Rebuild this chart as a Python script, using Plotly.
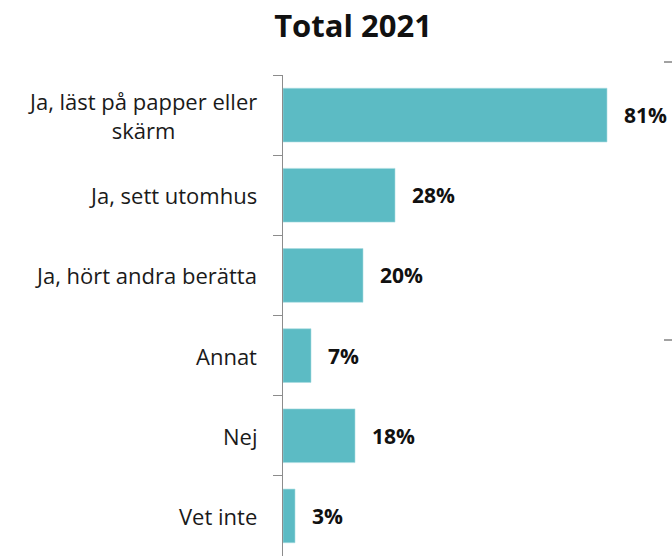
import plotly.graph_objects as go

categories = ["Ja, läst på papper eller<br>skärm", "Ja, sett utomhus", "Ja, hört andra berätta",
              "Annat", "Nej", "Vet inte"]
values = [81, 28, 20, 7, 18, 3]
value_labels = ["81%", "28%", "20%", "7%", "18%", "3%"]
title_text = "Total 2021"

W, H = 672, 556
L, T = 283, 75
FONT = "Open Sans"
BAR = "#5CBBC4"

fig = go.Figure()
fig.add_trace(go.Bar(
    x=values, y=categories, orientation="h",
    marker=dict(color=BAR, line=dict(color="#A9DCE1", width=0.6)),
    hoverinfo="skip", showlegend=False,
))

annotations = []
for c, v, lab in zip(categories, values, value_labels):
    annotations.append(dict(
        x=v, y=c, xref="x", yref="y", text="<b>" + lab + "</b>", showarrow=False,
        xanchor="left", yanchor="middle", xshift=15,
        font=dict(family=FONT, size=21, color="#111111"),
    ))
    annotations.append(dict(
        x=0, y=c, xref="paper", yref="y", text=c, showarrow=False,
        xanchor="right", yanchor="middle", align="center", xshift=-24,
        font=dict(family=FONT, size=22, color="#1a1a1a"),
    ))

fig.update_layout(
    width=W, height=H,
    margin=dict(l=L, r=0, t=T, b=0, pad=0),
    paper_bgcolor="white", plot_bgcolor="white",
    bargap=0.33,
    title=dict(text="<b>" + title_text + "</b>", x=353 / W, xref="container", xanchor="center",
               y=1 - 26 / H, yref="container", yanchor="middle",
               font=dict(family=FONT, size=31, color="#111111")),
    xaxis=dict(range=[0, (W - L) / 4.0], visible=False, fixedrange=True),
    yaxis=dict(autorange="reversed", type="category", showticklabels=False,
               showline=True, linecolor="#8C8C8C", linewidth=1.3,
               ticks="outside", tickson="boundaries", ticklen=9, tickcolor="#8C8C8C",
               tickwidth=1.3, showgrid=False, zeroline=False, fixedrange=True),
    annotations=annotations,
    shapes=[
        dict(type="line", xref="paper", yref="paper", x0=(664 - L) / (W - L), x1=1.0,
             y0=1 + (T - 62) / (H - T), y1=1 + (T - 62) / (H - T), line=dict(color="#444444", width=1)),
        dict(type="line", xref="paper", yref="paper", x0=(664 - L) / (W - L), x1=1.0,
             y0=1 - (340 - T) / (H - T), y1=1 - (340 - T) / (H - T), line=dict(color="#444444", width=1)),
    ],
)

fig.write_html(
    "out.html",
    config={"displayModeBar": False},
    post_script="document.body.style.margin='0';document.body.style.overflow='hidden';",
)
